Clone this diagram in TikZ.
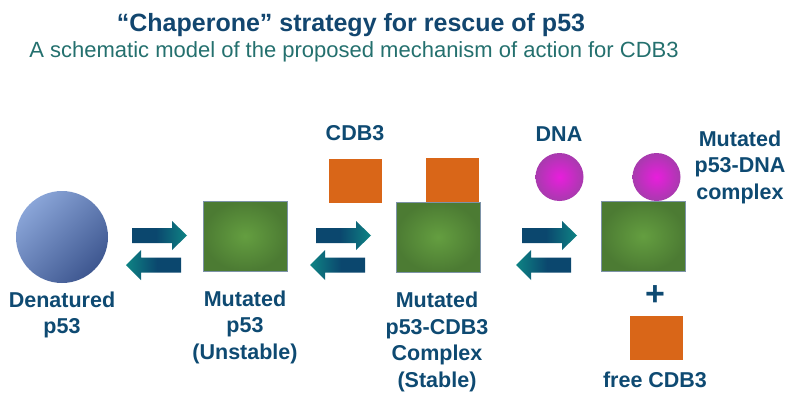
\documentclass[tikz,border=0pt]{standalone}
\usepackage{fontspec}
\setmainfont{Liberation Sans}
\definecolor{txtblue}{HTML}{0E4A72}
\definecolor{titleblue}{HTML}{12466F}
\definecolor{subteal}{HTML}{24706E}
\definecolor{navy}{HTML}{0B476E}
\definecolor{tealc}{HTML}{0E8484}
\definecolor{gin}{HTML}{649E40}
\definecolor{gout}{HTML}{4C7B33}
\definecolor{sqborder}{HTML}{7D93A8}
\definecolor{orng}{HTML}{D96618}
\definecolor{magin}{HTML}{E81EDC}
\definecolor{magout}{HTML}{A83AAE}
\definecolor{bluelight}{HTML}{8AA5D8}
\definecolor{bluedark}{HTML}{3E5790}
\pgfdeclarehorizontalshading{arrR}{100bp}{color(0bp)=(navy); color(25bp)=(navy); color(47bp)=(navy); color(75bp)=(tealc); color(100bp)=(tealc)}
\pgfdeclarehorizontalshading{arrL}{100bp}{color(0bp)=(tealc); color(25bp)=(tealc); color(53bp)=(navy); color(75bp)=(navy); color(100bp)=(navy)}
\newcommand{\rightarr}[2]{\shade[shading=arrR] (#1,#2-7.5) -- ++(40,0) -- ++(0,-7) -- ++(15,14.5) -- ++(-15,14.5) -- ++(0,-7) -- ++(-40,0) -- cycle;}
\newcommand{\leftarr}[2]{\shade[shading=arrL] (#1,#2) -- ++(15,-15) -- ++(0,7.5) -- ++(40,0) -- ++(0,15) -- ++(-40,0) -- ++(0,7.5) -- cycle;}
\tikzset{
  lbl/.style={font=\bfseries\fontsize{21.5}{26.5}\selectfont, text=txtblue, align=center, inner sep=0},
  greensq/.style={draw=sqborder, line width=0.8pt, inner color=gin, outer color=gout, minimum width=84pt, minimum height=70pt, inner sep=0},
  orsq/.style={fill=orng, minimum width=53pt, minimum height=44pt, inner sep=0},
  dnac/.style={circle, inner color=magin, outer color=magout, minimum size=48pt, inner sep=0},
}
\begin{document}
\begin{tikzpicture}[x=1pt,y=-1pt]
\useasboundingbox (0,0) rectangle (795,396);
% titles
\node[font=\bfseries\fontsize{25}{29}\selectfont, text=titleblue, inner sep=0, anchor=base] (title) at (351,32) {“Chaperone” strategy for rescue of p53};
\node[font=\fontsize{22}{26}\selectfont, text=subteal, inner sep=0, anchor=base] (sub) at (354,58) {A schematic model of the proposed mechanism of action for CDB3};
% denatured
\node[circle, minimum size=92pt, inner sep=0, shading=axis, top color=bluelight, bottom color=bluedark, shading angle=45] (den) at (62,237) {};
\node[lbl] (denl) at (62,315) {Denatured\\p53};
% mutated p53
\node[greensq] (m1) at (245,236) {};
\node[lbl] (m1l) at (245,327) {Mutated\\p53\\(Unstable)};
% CDB3 complex
\node[lbl] (cdbl) at (355,133) {CDB3};
\node[orsq] (cdb) at (355.5,181) {};
\node[orsq] (cdb2) at (452,180) {};
\node[greensq] (m2) at (438,237) {};
\node[lbl] (m2l) at (437,342) {Mutated\\p53-CDB3\\Complex\\(Stable)};
% DNA
\node[lbl] (dnal) at (559,134) {DNA};
\node[dnac] (dna) at (559.5,177) {};
\node[dnac] (dna2) at (656.5,177) {};
\node[greensq] (m3) at (643,236) {};
\node[lbl] (m3l) at (740,167) {Mutated\\p53-DNA\\complex};
\node[font=\bfseries\fontsize{34}{34}\selectfont, text=txtblue, inner sep=0] (plus) at (655,296) {+};
\node[orsq] (free) at (656.5,338) {};
\node[lbl] (freel) at (655,380) {free CDB3};
% arrows
\rightarr{132}{235.5}
\leftarr{126}{265}
\rightarr{316}{235.5}
\leftarr{310}{265}
\rightarr{522}{235.5}
\leftarr{516}{265}
\end{tikzpicture}
\end{document}
